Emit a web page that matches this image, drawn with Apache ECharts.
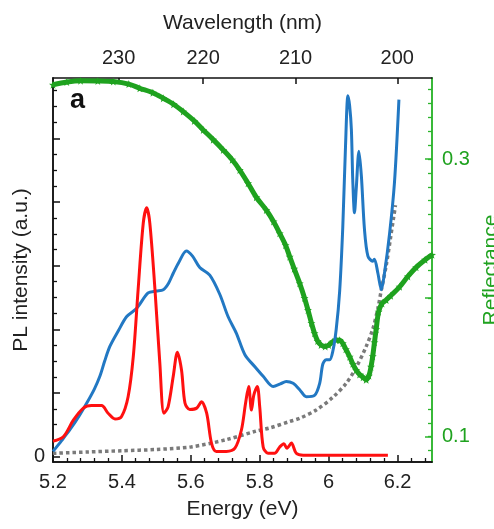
<!DOCTYPE html>
<html>
<head>
<meta charset="utf-8">
<script src="https://cdn.jsdelivr.net/npm/echarts@6/dist/echarts.min.js"></script>
<style>html,body{margin:0;padding:0;background:#fff}#c{width:494px;height:529px}</style>
</head>
<body>
<div id="c"></div>
<script>
// ---- data ----
const energyTicks = [5.2, 5.4, 5.6, 5.8, 6.0, 6.2];
const wavelengthTicks = [230, 220, 210, 200];
const reflTickLabels = [0.1, 0.3];

const blueE = [5.20,5.225,5.249,5.275,5.298,5.32,5.336,5.35,5.365,5.39,5.414,5.443,5.476,5.50,5.52,5.535,5.549,5.565,5.587,5.605,5.626,5.655,5.684,5.708,5.732,5.757,5.786,5.81,5.839,5.86,5.877,5.897,5.916,5.935,5.959,5.974,5.983,5.993,6.003,6.012,6.022,6.032,6.041,6.049,6.056,6.061,6.066,6.070,6.075,6.080,6.088,6.095,6.104,6.114,6.128,6.133,6.143,6.153,6.162,6.177,6.191,6.204];
const blueI = [0.08,0.25,0.42,0.63,0.84,1.06,1.26,1.50,1.73,1.98,2.20,2.33,2.57,2.60,2.62,2.72,2.88,3.05,3.23,3.15,2.97,2.85,2.55,2.20,1.94,1.60,1.41,1.26,1.10,1.14,1.18,1.15,1.05,0.94,0.96,1.15,1.45,1.52,1.52,1.65,2.00,2.60,3.60,4.88,5.67,5.51,5.14,4.35,3.83,4.20,4.80,4.41,3.57,3.15,3.07,3.10,2.88,2.62,2.88,3.51,4.30,5.61];

const redE = [5.20,5.23,5.259,5.288,5.312,5.341,5.36,5.38,5.399,5.418,5.433,5.447,5.462,5.472,5.481,5.496,5.51,5.522,5.534,5.549,5.561,5.573,5.583,5.597,5.617,5.631,5.646,5.66,5.674,5.703,5.728,5.747,5.759,5.768,5.776,5.783,5.793,5.80,5.81,5.824,5.843,5.858,5.87,5.879,5.892,5.906,5.926,6.0,6.1,6.172];
const redI = [0.24,0.31,0.57,0.76,0.80,0.80,0.68,0.59,0.63,0.94,1.57,2.62,3.67,3.91,3.67,2.62,1.47,0.68,0.78,1.26,1.64,1.36,0.84,0.74,0.76,0.86,0.68,0.21,0.08,0.08,0.13,0.42,0.84,1.10,0.73,0.97,1.10,0.78,0.15,0.05,0.05,0.15,0.20,0.13,0.21,0.05,0.02,0.02,0.02,0.02];

const grayE = [5.20,5.30,5.40,5.50,5.60,5.70,5.79,5.83,5.887,5.916,5.964,6.012,6.051,6.08,6.109,6.128,6.143,6.153,6.167,6.18,6.194];
const grayI = [0.05,0.07,0.09,0.11,0.15,0.26,0.40,0.45,0.55,0.60,0.73,0.93,1.15,1.40,1.73,2.00,2.33,2.62,3.00,3.45,3.95];

const greenE = [5.20,5.24,5.28,5.33,5.375,5.42,5.452,5.49,5.52,5.55,5.578,5.61,5.636,5.665,5.694,5.72,5.742,5.766,5.79,5.819,5.84,5.858,5.875,5.887,5.90,5.916,5.93,5.94,5.95,5.959,5.968,5.978,5.99,6.00,6.012,6.022,6.032,6.041,6.05,6.061,6.07,6.08,6.09,6.10,6.109,6.117,6.123,6.128,6.133,6.138,6.145,6.155,6.167,6.18,6.206,6.23,6.254,6.28,6.30];
const greenR = [0.3535,0.3555,0.3565,0.3563,0.3558,0.354,0.351,0.3478,0.3438,0.3395,0.3342,0.3275,0.321,0.314,0.3066,0.2995,0.2921,0.2826,0.2725,0.2633,0.255,0.2465,0.238,0.2297,0.221,0.2105,0.200,0.1913,0.182,0.1745,0.169,0.1661,0.1650,0.1660,0.1685,0.1697,0.1695,0.1673,0.163,0.1576,0.1525,0.148,0.1448,0.1428,0.1410,0.1440,0.1504,0.158,0.168,0.1775,0.190,0.196,0.1985,0.2015,0.208,0.2155,0.222,0.2275,0.2310];

// ---- helpers ----
const HC = 1239.84;
const zip = (a, b) => a.map((v, i) => [v, b[i]]);
const range = (a, b, s) => { const r = []; for (let v = a; v <= b + 1e-9; v += s) r.push(+v.toFixed(4)); return r; };
const FONT = "'Liberation Sans', Arial, Helvetica, sans-serif";
const GREEN = '#1fa21f';
const AXGREEN = '#2cb52c';
const xMin = 5.2, xMax = 6.3;
const yMin = -0.087, yMax = 5.95;
const rMin = 0.0818, rMax = 0.3584;

const wlEnergies = wavelengthTicks.map(w => HC / w);
const xMinor = range(5.2, 6.3, 0.04).filter(v => !energyTicks.some(t => Math.abs(t - v) < 1e-6));
const yMajor = range(0, 5, 1);
const yMinor = range(0.25, 5.75, 0.25).filter(v => Math.abs(v - Math.round(v)) > 1e-6);
const rMinor = range(0.09, 0.35, 0.01);
const rMajor = [0.1, 0.2, 0.3];
const star = 'path://M0,-10L2.35,-3.24L9.51,-3.09L3.8,1.24L5.88,8.09L0,4L-5.88,8.09L-3.8,1.24L-9.51,-3.09L-2.35,-3.24Z';

const chart = echarts.init(document.getElementById('c'), null, {renderer: 'canvas'});
const lab = {fontFamily: FONT, fontSize: 20, color: '#222'};
const nm = {fontFamily: FONT, fontSize: 21, color: '#222'};
function minorAxis(pos, min, max, vals, color, len) {
  return {type: 'value', position: pos, min: min, max: max,
    axisLine: {show: true, onZero: false, lineStyle: {color: color, width: 1.5}},
    axisTick: {show: true, inside: true, length: len, customValues: vals, lineStyle: {color: color, width: 1.3}},
    axisLabel: {show: false},
    splitLine: {show: false}};
}
chart.setOption({
  animation: false,
  backgroundColor: '#fff',
  textStyle: {fontFamily: FONT},
  title: {text: 'a', left: 65, top: 82, textStyle: {fontFamily: FONT, fontSize: 27, fontWeight: 'bold', color: '#111'}},
  grid: {left: 53, right: 62, top: 78, bottom: 67, containLabel: false, outerBoundsMode: 'none'},
  xAxis: [
    {type: 'value', position: 'bottom', min: xMin, max: xMax,
      name: 'Energy (eV)', nameLocation: 'middle', nameGap: 37, nameTextStyle: nm,
      axisLine: {show: true, onZero: false, lineStyle: {color: '#111', width: 1.5}},
      axisTick: {show: true, inside: true, length: 7, customValues: energyTicks, lineStyle: {color: '#111', width: 1.5}},
      axisLabel: {customValues: energyTicks, margin: 10, ...lab, formatter: v => (Math.abs(v - 6) < 1e-6 ? '6' : v.toFixed(1))},
      splitLine: {show: false}},
    minorAxis('bottom', xMin, xMax, xMinor, '#111', 4),
    {type: 'value', position: 'top', min: xMin, max: xMax,
      name: 'Wavelength (nm)', nameLocation: 'middle', nameGap: 44, nameTextStyle: nm,
      axisLine: {show: true, onZero: false, lineStyle: {color: '#111', width: 1.5}},
      axisTick: {show: true, inside: true, length: 6, customValues: wlEnergies, lineStyle: {color: '#111', width: 1.5}},
      axisLabel: {customValues: wlEnergies, margin: 10, ...lab, formatter: v => String(Math.round(HC / v))},
      splitLine: {show: false}}
  ],
  yAxis: [
    {type: 'value', position: 'left', min: yMin, max: yMax,
      name: 'PL intensity (a.u.)', nameLocation: 'middle', nameGap: 21, nameRotate: 90, nameMoveOverlap: false, nameTextStyle: nm,
      axisLine: {show: true, onZero: false, lineStyle: {color: '#111', width: 1.5}},
      axisTick: {show: true, inside: true, length: 7, customValues: yMajor, lineStyle: {color: '#111', width: 1.5}},
      axisLabel: {customValues: [0], margin: 8, ...lab},
      splitLine: {show: false}},
    minorAxis('left', yMin, yMax, yMinor, '#111', 4),
    {type: 'value', position: 'right', min: rMin, max: rMax,
      name: 'Reflectance', nameLocation: 'middle', nameGap: 44, nameRotate: 90,
      nameTextStyle: {...nm, color: GREEN},
      axisLine: {show: true, onZero: false, lineStyle: {color: AXGREEN, width: 1.5}},
      axisTick: {show: true, inside: true, length: 7, customValues: rMajor, lineStyle: {color: AXGREEN, width: 1.5}},
      axisLabel: {customValues: reflTickLabels, margin: 10, ...lab, color: GREEN, formatter: v => v.toFixed(1)},
      splitLine: {show: false}},
    minorAxis('right', rMin, rMax, rMinor, AXGREEN, 4)
  ],
  series: [
    {type: 'line', name: 'absorption', xAxisIndex: 0, yAxisIndex: 0, data: zip(grayE, grayI),
      showSymbol: false, smooth: 0.3, lineStyle: {color: '#7a7a7a', width: 3.5, type: [3.5, 3]}, z: 2},
    {type: 'line', name: 'reflectance', xAxisIndex: 0, yAxisIndex: 2, data: zip(greenE, greenR),
      smooth: 0.3, symbol: star, symbolSize: 8, showSymbol: true,
      itemStyle: {color: GREEN}, lineStyle: {color: GREEN, width: 5}, z: 3},
    {type: 'line', name: 'blue', xAxisIndex: 0, yAxisIndex: 0, data: zip(blueE, blueI),
      showSymbol: false, smooth: 0.3, lineStyle: {color: '#2278c3', width: 3}, z: 4},
    {type: 'line', name: 'red', xAxisIndex: 0, yAxisIndex: 0, data: zip(redE, redI),
      showSymbol: false, smooth: 0.3, lineStyle: {color: '#ff1010', width: 3}, z: 5}
  ]
});
</script>
</body>
</html>
